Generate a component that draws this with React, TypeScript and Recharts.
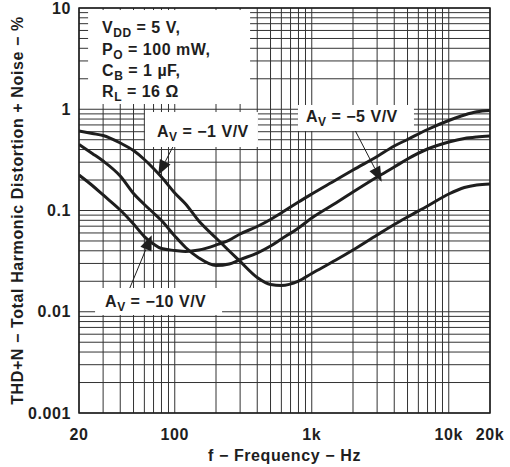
import React from "react";
import {
  LineChart, Line, XAxis, YAxis, CartesianGrid, ReferenceArea, ReferenceDot, ReferenceLine,
} from "recharts";

// frequency points (Hz) and THD+N (%)
const freq = [20, 25, 30, 40, 50, 60, 70, 80, 100, 120, 150, 200, 250, 300, 400, 500, 600, 800, 1000, 1500, 2000, 3000, 4000, 5000, 7000, 10000, 13000, 16000, 20000];
const thdAv1 = [0.61, 0.576, 0.55, 0.464, 0.391, 0.319, 0.26, 0.214, 0.149, 0.116, 0.0787, 0.0535, 0.0398, 0.0314, 0.0218, 0.0186, 0.0182, 0.0201, 0.0239, 0.0324, 0.0407, 0.0573, 0.0727, 0.0863, 0.1108, 0.1455, 0.1687, 0.1786, 0.1827];
const thdAv5 = [0.4485, 0.3656, 0.308, 0.219, 0.1472, 0.1147, 0.0945, 0.0796, 0.056, 0.0431, 0.034, 0.0286, 0.0296, 0.0328, 0.038, 0.0446, 0.0523, 0.0672, 0.0843, 0.1186, 0.1523, 0.2142, 0.2689, 0.3226, 0.405, 0.4749, 0.5143, 0.532, 0.5443];
const thdAv10 = [0.224, 0.1766, 0.1423, 0.1011, 0.0736, 0.0553, 0.0467, 0.0421, 0.0403, 0.0394, 0.0407, 0.0456, 0.0511, 0.0586, 0.0695, 0.0815, 0.0945, 0.1213, 0.1455, 0.2001, 0.2512, 0.3415, 0.4335, 0.5027, 0.631, 0.774, 0.877, 0.944, 0.972];

const xTicks = [20, 30, 40, 50, 60, 70, 80, 90, 100, 200, 300, 400, 500, 600, 700, 800, 900, 1000, 2000, 3000, 4000, 5000, 6000, 7000, 8000, 9000, 10000, 20000];
const xLabels: Record<number, string> = { 20: "20", 100: "100", 1000: "1k", 10000: "10k", 20000: "20k" };
const yTicks = [0.001, 0.002, 0.003, 0.004, 0.005, 0.006, 0.007, 0.008, 0.009, 0.01, 0.02, 0.03, 0.04, 0.05, 0.06, 0.07, 0.08, 0.09, 0.1, 0.2, 0.3, 0.4, 0.5, 0.6, 0.7, 0.8, 0.9, 1, 2, 3, 4, 5, 6, 7, 8, 9, 10];
const yLabels: Record<number, string> = { 0.001: "0.001", 0.01: "0.01", 0.1: "0.1", 1: "1", 10: "10" };

// annotation anchors (data coords): box top-left corner, arrow start -> arrow tip
const conditionsAt = { f: 23.3, v: 9.55 };
const av1At = { f: 60.6, v: 0.939 };
const av5At = { f: 793, v: 1.102 };
const av10At = { f: 26.2, v: 0.01716 };
const av1Arrow = [{ x: 112, y: 0.62 }, { x: 75.8, y: 0.224 }];
const av5Arrow = [{ x: 2069, y: 0.62 }, { x: 3240, y: 0.1925 }];
const av10Arrow = [{ x: 45.8, y: 0.0158 }, { x: 67.9, y: 0.0569 }];

const rows = freq.map((f, i) => ({ f, av1: thdAv1[i], av5: thdAv5[i], av10: thdAv10[i] }));

const FONT = "'Liberation Sans', Arial, sans-serif";
const INK = "#1e1e1e";
const tickStyle = { fill: INK, fontSize: 16, fontWeight: "bold", fontFamily: FONT, letterSpacing: 0.6 };

function Sub({ x, y, base, sub, rest }: { x: number; y: number; base: string; sub: string; rest: string }) {
  return (
    <text x={x} y={y} fontSize={16} fontWeight="bold" fontFamily={FONT} fill={INK} letterSpacing={0.5}>
      {base}
      <tspan fontSize={12} dy={4}>{sub}</tspan>
      <tspan dy={-4}>{rest}</tspan>
    </text>
  );
}

function NoteBox({ x, y, w, h, children }: { x: number; y: number; w: number; h: number; children: React.ReactNode }) {
  return (
    <g>
      <rect x={x} y={y} width={w} height={h} fill="#fff" />
      {children}
    </g>
  );
}

function Arrow(props: any) {
  const { x1, y1, x2, y2 } = props;
  if ([x1, y1, x2, y2].some((n) => typeof n !== "number" || isNaN(n))) return null;
  const dx = x2 - x1;
  const dy = y2 - y1;
  const len = Math.hypot(dx, dy) || 1;
  const ux = dx / len;
  const uy = dy / len;
  const hl = 15;
  const hw = 6;
  const bx = x2 - ux * hl;
  const by = y2 - uy * hl;
  return (
    <g>
      <line x1={x1} y1={y1} x2={bx} y2={by} stroke={INK} strokeWidth={1} />
      <polygon
        points={`${x2},${y2} ${bx - uy * hw},${by + ux * hw} ${bx + uy * hw},${by - ux * hw}`}
        fill={INK}
      />
    </g>
  );
}

export default function App() {
  return (
    <div style={{ position: "absolute", left: 0, top: 0, width: 510, height: 467, background: "#fff" }}>
      <LineChart width={510} height={467} data={rows} margin={{ top: 8, right: 20, bottom: 0, left: 0 }}>
        <CartesianGrid stroke="#333" strokeWidth={1} />
        <XAxis
          dataKey="f"
          type="number"
          scale="log"
          domain={[20, 20000]}
          allowDataOverflow
          ticks={xTicks}
          interval={0}
          tickFormatter={(v: number) => xLabels[v] ?? ""}
          tick={tickStyle}
          tickLine={false}
          axisLine={false}
          tickMargin={10}
          height={54}
          label={{
            value: "f − Frequency − Hz",
            position: "insideBottom",
            offset: 6,
            style: { fill: INK, fontSize: 16, fontWeight: "bold", fontFamily: FONT, letterSpacing: 0.6 },
          }}
        />
        <YAxis
          type="number"
          scale="log"
          domain={[0.001, 10]}
          allowDataOverflow
          ticks={yTicks}
          interval={0}
          tickFormatter={(v: number) => yLabels[v] ?? ""}
          tick={tickStyle}
          tickLine={false}
          axisLine={false}
          width={79}
          label={{
            value: "THD+N − Total Harmonic Distortion + Noise − %",
            angle: -90,
            position: "insideLeft",
            offset: 17,
            style: { textAnchor: "middle", fill: INK, fontSize: 16, fontWeight: "bold", fontFamily: FONT, letterSpacing: 0.6 },
          }}
        />
        <ReferenceArea x1={20} x2={20000} y1={0.001} y2={10} fill="none" stroke={INK} strokeWidth={1.5} />
        <Line type="monotone" dataKey="av1" stroke={INK} strokeWidth={3} dot={false} isAnimationActive={false} />
        <Line type="monotone" dataKey="av5" stroke={INK} strokeWidth={3} dot={false} isAnimationActive={false} />
        <Line type="monotone" dataKey="av10" stroke={INK} strokeWidth={3} dot={false} isAnimationActive={false} />

        <ReferenceDot
          x={conditionsAt.f}
          y={conditionsAt.v}
          shape={(p: any) => (
            <NoteBox x={p.cx} y={p.cy} w={162} h={94}>
              <Sub x={p.cx + 14} y={p.cy + 23} base="V" sub="DD" rest=" = 5 V," />
              <Sub x={p.cx + 14} y={p.cy + 44.5} base="P" sub="O" rest=" = 100 mW," />
              <Sub x={p.cx + 14} y={p.cy + 66} base="C" sub="B" rest=" = 1 µF," />
              <Sub x={p.cx + 14} y={p.cy + 87} base="R" sub="L" rest=" = 16 Ω" />
            </NoteBox>
          )}
        />
        <ReferenceDot
          x={av1At.f}
          y={av1At.v}
          shape={(p: any) => (
            <NoteBox x={p.cx} y={p.cy} w={113} h={35}>
              <Sub x={p.cx + 12} y={p.cy + 25} base="A" sub="V" rest=" = −1 V/V" />
            </NoteBox>
          )}
        />
        <ReferenceDot
          x={av5At.f}
          y={av5At.v}
          shape={(p: any) => (
            <NoteBox x={p.cx} y={p.cy} w={116} h={26}>
              <Sub x={p.cx + 8} y={p.cy + 17} base="A" sub="V" rest=" = −5 V/V" />
            </NoteBox>
          )}
        />
        <ReferenceDot
          x={av10At.f}
          y={av10At.v}
          shape={(p: any) => (
            <NoteBox x={p.cx} y={p.cy} w={127} h={27}>
              <Sub x={p.cx + 10} y={p.cy + 19} base="A" sub="V" rest=" = −10 V/V" />
            </NoteBox>
          )}
        />
        <ReferenceLine segment={av1Arrow} shape={Arrow} />
        <ReferenceLine segment={av5Arrow} shape={Arrow} />
        <ReferenceLine segment={av10Arrow} shape={Arrow} />
      </LineChart>
    </div>
  );
}
